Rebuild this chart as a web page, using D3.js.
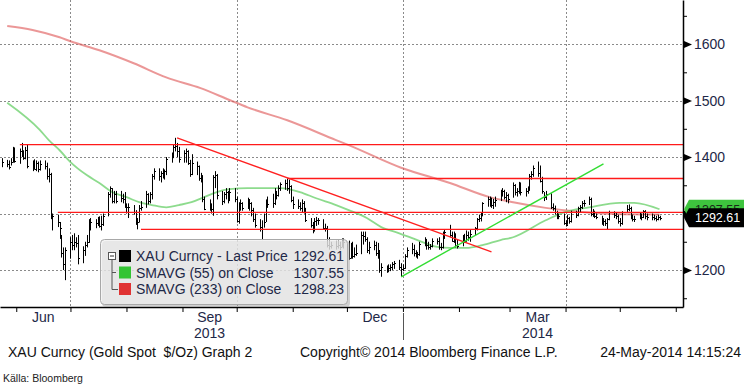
<!DOCTYPE html>
<html lang="en">
<head>
<meta charset="utf-8">
<style type="text/css">
    body { margin: 0; background: #fff; }
    svg text { font-family: "Liberation Sans", Arial, sans-serif; }
    .axis_text { font-size: 14px; fill: #1e2848; }
    .tag_text { font-size: 12.5px; }
    .legend_text { font-size: 14px; fill: #1e2848; }
    .footer_text { font-size: 14px; fill: #111; white-space: pre; }
    .source_text { font-size: 10.5px; fill: #222; }
</style>
</head>
<body>
<div id="graph"></div>
<script src="https://cdn.jsdelivr.net/npm/d3@7"></script>
<script type="text/javascript">
// daily bars, 24-May-2013 .. 23-May-2014 (one row per week after the first day)
var priceHigh = [1398,
    1395,1394,1398,1418,1417, 1415,1425,1412,1418,1422, 1394,1396,1394,1392,1394, 1394,1390,1380,1372,1300,
    1298,1285,1262,1240,1240, 1258,1262,1265,1258,1262, 1242,1250,1262,1290,1292, 1290,1294,1295,1296,1300,
    1338,1348,1345,1340,1340, 1340,1335,1338,1318,1318, 1315,1306,1292,1315,1322, 1340,1336,1338,1370,1380,
    1380,1375,1380,1378,1400, 1408,1422,1434,1425,1418, 1412,1415,1412,1395,1405, 1392,1385,1372,1368,1330,
    1325,1318,1368,1375,1370, 1340,1338,1345,1340,1345, 1345,1330,1320,1325,1320, 1328,1325,1320,1310,1300,
    1290,1288,1300,1325,1330, 1335,1345,1340,1350,1355, 1360,1362,1360,1350,1330, 1325,1320,1325,1322,1310,
    1292,1285,1292,1294,1292, 1290,1282,1278,1258,1250, 1252,1254,1250,1256,1256, 1252,1248,1250,1240,1245,
    1268,1268,1268,1258,1250, 1252,1250,1248,1235,1212, 1208,1210,1210,1214,1216, 1218,1212,1210,1228,1240,
    1248,1245,1235,1232,1250, 1258,1255,1250,1246,1256, 1256,1258,1248,1268,1272, 1280,1268,1268,1265,1254,
    1262,1264,1270,1268,1272, 1276,1292,1298,1302,1320, 1330,1330,1328,1326,1330, 1342,1345,1342,1338,1335,
    1355,1352,1345,1356,1355, 1345,1348,1370,1375,1385, 1392,1385,1365,1338,1340, 1336,1318,1314,1305,1300,
    1300,1288,1298,1294,1305, 1305,1312,1315,1322,1324, 1330,1328,1308,1305,1300, 1296,1292,1290,1292,1305,
    1304,1302,1298,1292,1304, 1315,1316,1312,1298,1296, 1302,1300,1306,1306,1300, 1300,1298,1296,1298,1296];
var priceLow = [1382,
    1382,1378,1385,1390,1390, 1388,1400,1395,1396,1380, 1375,1378,1375,1373,1376, 1378,1360,1355,1290,1270,
    1276,1255,1222,1200,1182, 1220,1235,1235,1240,1210, 1212,1225,1240,1248,1270, 1274,1278,1275,1270,1278,
    1295,1328,1318,1318,1318, 1320,1318,1310,1300,1292, 1298,1280,1272,1284,1305, 1310,1316,1318,1325,1360,
    1358,1355,1362,1360,1368, 1390,1398,1410,1400,1390, 1390,1390,1386,1365,1368, 1368,1358,1355,1320,1306,
    1305,1300,1296,1345,1325, 1315,1318,1325,1318,1322, 1320,1284,1282,1305,1305, 1308,1305,1295,1285,1275,
    1268,1253,1275,1285,1310, 1310,1315,1325,1330,1340, 1342,1340,1335,1320,1308, 1308,1305,1302,1300,1285,
    1275,1265,1268,1278,1280, 1272,1268,1240,1236,1238, 1236,1238,1235,1240,1238, 1218,1220,1220,1222,1225,
    1228,1245,1250,1230,1228, 1235,1225,1220,1195,1188, 1195,1196,1198,1200,1202, 1200,1188,1198,1202,1222,
    1228,1224,1222,1220,1225, 1242,1236,1236,1236,1240, 1245,1236,1235,1238,1255, 1258,1250,1248,1240,1238,
    1242,1248,1250,1252,1250, 1262,1270,1285,1286,1295, 1312,1312,1310,1308,1312, 1322,1330,1325,1320,1318,
    1328,1332,1330,1335,1332, 1330,1335,1340,1360,1365, 1365,1355,1335,1322,1324, 1308,1305,1298,1290,1290,
    1280,1277,1280,1282,1284, 1292,1295,1302,1308,1312, 1315,1295,1294,1292,1290, 1280,1278,1278,1272,1288,
    1292,1290,1282,1277,1280, 1302,1304,1290,1286,1285, 1290,1288,1292,1290,1288, 1288,1288,1286,1288,1288];
var priceClose = [1391,
    1388,1383,1392,1412,1393, 1411,1404,1398,1413,1385, 1385,1378,1390,1378,1388, 1385,1367,1370,1295,1296,
    1285,1275,1230,1210,1235, 1250,1245,1250,1248,1222, 1235,1245,1250,1280,1285, 1283,1290,1278,1282,1295,
    1335,1345,1322,1335,1322, 1328,1325,1312,1311,1312, 1302,1282,1285,1310,1312, 1334,1322,1335,1367,1376,
    1366,1372,1369,1375,1396, 1405,1418,1420,1410,1396, 1408,1410,1390,1370,1390, 1385,1362,1366,1325,1308,
    1312,1308,1365,1368,1332, 1322,1335,1338,1324,1338, 1326,1286,1316,1318,1310, 1325,1318,1306,1290,1280,
    1276,1272,1285,1320,1316, 1318,1340,1333,1345,1352, 1354,1346,1348,1324,1316, 1314,1310,1318,1308,1288,
    1280,1270,1286,1288,1288, 1275,1275,1244,1242,1245, 1242,1244,1240,1248,1250, 1222,1242,1225,1228,1230,
    1262,1260,1255,1236,1240, 1245,1230,1235,1200,1205, 1198,1203,1205,1210,1212, 1206,1202,1204,1225,1236,
    1238,1230,1228,1228,1246, 1254,1244,1240,1242,1252, 1252,1240,1240,1264,1268, 1262,1252,1262,1244,1242,
    1260,1252,1262,1258,1264, 1274,1290,1292,1298,1318, 1326,1322,1315,1320,1324, 1338,1340,1330,1332,1326,
    1350,1338,1340,1350,1338, 1340,1345,1366,1370,1380, 1372,1358,1340,1330,1334, 1312,1310,1302,1294,1295,
    1284,1280,1292,1286,1302, 1298,1310,1312,1318,1318, 1325,1300,1302,1295,1294, 1284,1286,1284,1290,1302,
    1298,1296,1286,1284,1302, 1308,1310,1292,1290,1290, 1296,1294,1304,1295,1293, 1294,1292,1290,1294,1292.61];

var sma55Dates = ["2013-05-27","2013-06-14","2013-06-19","2013-06-25","2013-07-01","2013-07-10","2013-07-17","2013-07-24",
    "2013-08-01","2013-08-08","2013-08-15","2013-08-23","2013-08-30","2013-09-06","2013-09-13","2013-09-20","2013-09-27",
    "2013-10-07","2013-10-18","2013-10-25","2013-11-05","2013-11-14","2013-11-25","2013-12-02","2013-12-12","2013-12-20",
    "2013-12-30","2014-01-09","2014-01-20","2014-01-27","2014-02-05","2014-02-14","2014-02-24","2014-03-03","2014-03-21",
    "2014-04-01","2014-04-14","2014-05-01","2014-05-09","2014-05-23"];
var sma55Values = [1496,1448,1430,1412,1391,1368,1354,1338,1329,1320,1315,1311,1315,1320,1329,1338,1343,1345,1345,1345,
    1338,1327,1315,1306,1292,1276,1265,1253,1241,1239,1239,1244,1253,1258,1288,1303,1311,1319,1319,1307.55];

var sma233Dates = ["2013-05-27","2013-06-10","2013-06-25","2013-07-01","2013-07-17","2013-08-05","2013-08-23","2013-09-11",
    "2013-09-27","2013-10-07","2013-10-29","2013-11-25","2013-12-02","2013-12-31","2014-01-27","2014-02-18","2014-03-03",
    "2014-03-21","2014-04-09","2014-04-28","2014-05-23"];
var sma233Values = [1632,1625,1612,1605,1589,1566,1541,1522,1501,1488,1465,1430,1421,1381,1354,1329,1320,1310,1303,1299,1298.23];

// drawn annotations
var levelStarts = ["2013-06-03","2013-10-29","2013-06-24","2013-08-09"];
var levelValues = [1422,1362,1302,1272];
var downTrend = [["2013-08-29",1434],["2014-02-19",1232]];
var upTrend = [["2013-12-31",1188],["2014-04-22",1388]];

var yMajor = [1200,1300,1400,1500,1600];
var yMinor = [1150,1250,1350,1450,1550,1650];
var gridDates = ["2013-07-01","2013-10-01","2014-01-01","2014-04-01"];
var monthLabels = [["2013-06","Jun"],["2013-09","Sep"],["2013-12","Dec"],["2014-03","Mar"]];
var yearLabels = [["2013-09","2013"],["2014-03","2014"]];

var legendNames = ["XAU Curncy - Last Price","SMAVG (55) on Close","SMAVG (233) on Close"];
var legendValues = ["1292.61","1307.55","1298.23"];
var legendColors = ["#000000","#33c433","#e03333"];

var plotRight = 683, plotBottom = 307;
var parseDay = d3.timeParse("%Y-%m-%d"), parseMonth = d3.timeParse("%Y-%m");

var svg = d3.select("#graph").append("svg")
    .attr("width", 748).attr("height", 388);

var x = d3.scaleTime()
    .domain([new Date(2013, 4, 23), new Date(2014, 5, 5)])
    .range([0, plotRight]);
var y = d3.scaleLinear()
    .domain([1134.5, 1678])
    .range([plotBottom, 0]);

svg.append("clipPath").attr("id", "plotclip")
    .append("rect").attr("width", plotRight).attr("height", plotBottom);

// grid
var grid = svg.append("g").attr("stroke", "#8a8a8a").attr("stroke-dasharray", "2,2").attr("stroke-width", 1);
grid.selectAll(".hg").data(yMajor).join("line").attr("class", "hg")
    .attr("x1", 0).attr("x2", plotRight)
    .attr("y1", d => Math.round(y(d)) + 0.5).attr("y2", d => Math.round(y(d)) + 0.5);
grid.selectAll(".vg").data(gridDates).join("line").attr("class", "vg")
    .attr("x1", d => Math.round(x(parseDay(d))) + 0.5).attr("x2", d => Math.round(x(parseDay(d))) + 0.5)
    .attr("y1", 0).attr("y2", plotBottom);

var plot = svg.append("g").attr("clip-path", "url(#plotclip)");

// moving averages
var smaLine = d3.line().x(d => x(d[0])).y(d => y(d[1])).curve(d3.curveMonotoneX);
plot.append("path")
    .datum(sma233Dates.map((d, i) => [parseDay(d), sma233Values[i]]))
    .attr("d", smaLine).attr("fill", "none")
    .attr("stroke", "#e06060").attr("stroke-opacity", 0.65).attr("stroke-width", 2);
plot.append("path")
    .datum(sma55Dates.map((d, i) => [parseDay(d), sma55Values[i]]))
    .attr("d", smaLine).attr("fill", "none")
    .attr("stroke", "#5ccc5c").attr("stroke-opacity", 0.7).attr("stroke-width", 1.8);

// price bars
var days = d3.timeDay.range(new Date(2013, 4, 24), new Date(2014, 4, 24))
    .filter(d => d.getDay() !== 0 && d.getDay() !== 6);
var bars = days.map((d, i) => ({date: d, high: priceHigh[i], low: priceLow[i], close: priceClose[i]}))
    .filter(d => d.high !== undefined);
plot.append("g").selectAll("path").data(bars).join("path")
    .attr("d", function(d) {
        var px = Math.round(x(d.date)) + 0.5;
        return "M" + px + "," + y(d.high) + "V" + y(d.low) +
               "M" + px + "," + Math.round(y(d.close)) + ".5H" + (px + 1.5);
    })
    .attr("fill", "none").attr("stroke", "#000").attr("stroke-width", 1);

// support / resistance levels and trend lines
plot.selectAll(".level").data(levelValues).join("line").attr("class", "level")
    .attr("x1", (d, i) => x(parseDay(levelStarts[i]))).attr("x2", plotRight)
    .attr("y1", d => y(d)).attr("y2", d => y(d))
    .attr("stroke", "#ff1a1a").attr("stroke-width", 1.3);
plot.append("line")
    .attr("x1", x(parseDay(downTrend[0][0]))).attr("y1", y(downTrend[0][1]))
    .attr("x2", x(parseDay(downTrend[1][0]))).attr("y2", y(downTrend[1][1]))
    .attr("stroke", "#ff2020").attr("stroke-width", 1.3);
plot.append("line")
    .attr("x1", x(parseDay(upTrend[0][0]))).attr("y1", y(upTrend[0][1]))
    .attr("x2", x(parseDay(upTrend[1][0]))).attr("y2", y(upTrend[1][1]))
    .attr("stroke", "#33dd33").attr("stroke-width", 1.4);

// right axis
var yAxis = svg.append("g").attr("class", "axis_text")
    .attr("transform", "translate(" + plotRight + ",0)")
    .call(d3.axisRight(y).tickValues(yMajor).tickFormat(d3.format("d"))
        .tickSize(0).tickSizeOuter(0).tickPadding(11));
yAxis.select(".domain").attr("stroke", "#000").attr("stroke-width", 1.5);
yAxis.selectAll(".tick text").attr("fill", "#1e2848").style("font-size", "14px");
yAxis.selectAll(".tick").append("path").attr("d", "M1,-3.5L9,0L1,3.5Z").attr("fill", "#000");
svg.append("g").attr("transform", "translate(" + plotRight + ",0)")
    .call(d3.axisRight(y).tickValues(yMinor).tickSize(4).tickFormat(""))
    .call(g => g.select(".domain").remove());

// bottom axis
var xAxis = svg.append("g").attr("transform", "translate(0," + plotBottom + ")")
    .call(d3.axisBottom(x).ticks(d3.timeMonth.every(1)).tickSize(5).tickSizeOuter(0).tickFormat(""));
xAxis.select(".domain").attr("stroke", "#000").attr("stroke-width", 1.5);

function monthMid(s) {
    var m = parseMonth(s);
    return (x(m) + x(d3.timeMonth.offset(m, 1))) / 2;
}
svg.selectAll(".mlab").data(monthLabels).join("text").attr("class", "axis_text mlab")
    .attr("x", d => monthMid(d[0])).attr("y", 322).attr("text-anchor", "middle").text(d => d[1]);
svg.selectAll(".ylab").data(yearLabels).join("text").attr("class", "axis_text ylab")
    .attr("x", d => monthMid(d[0])).attr("y", 338).attr("text-anchor", "middle").text(d => d[1]);
svg.append("line")
    .attr("x1", Math.round(x(new Date(2014, 0, 1))) + 0.5).attr("x2", Math.round(x(new Date(2014, 0, 1))) + 0.5)
    .attr("y1", 313).attr("y2", 340).attr("stroke", "#555").attr("stroke-width", 1);

// last value tags
function tag(value, fill) {
    var cy = y(value);
    return svg.append("path")
        .attr("d", "M" + (plotRight + 1) + "," + cy + "L" + (plotRight + 6) + "," + (cy - 9.5) +
                   "H744V" + (cy + 9.5) + "H" + (plotRight + 6) + "Z")
        .attr("fill", fill);
}
tag(1307.55, "#3ec43e");
svg.append("text").attr("x", 695).attr("y", y(1307.55) + 4.5).attr("class", "tag_text")
    .style("fill", "#1a2a1a").text("1307.55");
tag(1292.61, "#000");
svg.append("text").attr("x", 695).attr("y", y(1292.61) + 4.5).attr("class", "tag_text")
    .style("fill", "#fff").text("1292.61");

// legend
var legend = svg.append("g");
legend.append("rect").attr("x", 102).attr("y", 241).attr("width", 248).attr("height", 66)
    .attr("rx", 4).attr("fill", "#999").attr("opacity", 0.45);
legend.append("rect").attr("x", 100.5).attr("y", 239.5).attr("width", 247).attr("height", 65)
    .attr("rx", 4).attr("fill", "#f0f0f0").attr("fill-opacity", 0.72)
    .attr("stroke", "#a8a8a8").attr("stroke-width", 1);
var rowY = [256, 272.5, 289];
legend.append("rect").attr("x", 108.5).attr("y", 252.5).attr("width", 7).attr("height", 7)
    .attr("fill", "#fff").attr("stroke", "#555");
legend.append("path").attr("d", "M110,256H114").attr("stroke", "#333");
legend.append("path").attr("d", "M112,260V289.5H118M112,272.5H116")
    .attr("fill", "none").attr("stroke", "#555");
legend.selectAll(".sw").data(legendColors).join("rect").attr("class", "sw")
    .attr("x", 119).attr("y", (d, i) => rowY[i] - 6).attr("width", 12).attr("height", 12)
    .attr("fill", d => d);
legend.selectAll(".ln").data(legendNames).join("text").attr("class", "legend_text ln")
    .attr("x", 136).attr("y", (d, i) => rowY[i] + 5).text(d => d);
legend.selectAll(".lv").data(legendValues).join("text").attr("class", "legend_text lv")
    .attr("x", 344).attr("y", (d, i) => rowY[i] + 5).attr("text-anchor", "end").text(d => d);

// footer
svg.append("text").attr("class", "footer_text").attr("x", 8).attr("y", 357)
    .text("XAU Curncy (Gold Spot  $/Oz) Graph 2");
svg.append("text").attr("class", "footer_text").attr("x", 300).attr("y", 357)
    .text("Copyright\u00a9 2014 Bloomberg Finance L.P.");
svg.append("text").attr("class", "footer_text").attr("x", 741).attr("y", 357)
    .attr("text-anchor", "end").text("24-May-2014 14:15:24");
svg.append("text").attr("class", "source_text").attr("x", 3).attr("y", 382)
    .text("K\u00e4lla: Bloomberg");
</script>
</body>
</html>
